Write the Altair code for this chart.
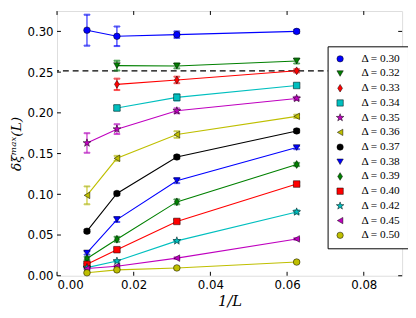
import altair as alt
import pandas as pd

# ---- data ----
L_values = [128, 64, 32, 16]
deltas = ["0.30", "0.32", "0.33", "0.34", "0.35", "0.36", "0.37",
          "0.38", "0.39", "0.40", "0.42", "0.45", "0.50"]

values = {
    "0.30": [0.3015, 0.294, 0.296, 0.300],
    "0.32": [None, 0.258, 0.2576, 0.2636],
    "0.33": [None, 0.235, 0.2404, 0.2516],
    "0.34": [None, 0.206, 0.219, 0.2336],
    "0.35": [0.163, 0.180, 0.2025, 0.2177],
    "0.36": [0.0987, 0.1442, 0.1734, 0.1957],
    "0.37": [0.0547, 0.101, 0.1458, 0.1778],
    "0.38": [0.028, 0.069, 0.1167, 0.1574],
    "0.39": [0.0212, 0.0448, 0.0907, 0.1366],
    "0.40": [0.014, 0.032, 0.0667, 0.1126],
    "0.42": [0.010, 0.018, 0.0428, 0.0783],
    "0.45": [0.0088, 0.0116, 0.0216, 0.0452],
    "0.50": [0.0036, 0.0072, 0.0096, 0.0168],
}
errors = {
    "0.30": [0.019, 0.012, 0.004, 0.002],
    "0.32": [None, 0.006, 0.003, 0.003],
    "0.33": [None, 0.007, 0.004, 0.002],
    "0.34": [None, 0.003, 0.004, 0.002],
    "0.35": [0.012, 0.006, 0.003, 0.002],
    "0.36": [0.011, 0.003, 0.004, 0.002],
    "0.37": [0.002, 0.002, 0.002, 0.002],
    "0.38": [0.002, 0.003, 0.003, 0.002],
    "0.39": [0.002, 0.003, 0.003, 0.002],
    "0.40": [0.001, 0.002, 0.002, 0.002],
    "0.42": [0.001, 0.001, 0.001, 0.002],
    "0.45": [0.001, 0.001, 0.001, 0.001],
    "0.50": [0.001, 0.001, 0.001, 0.001],
}
threshold = 0.2515
x_ticks = [0.00, 0.02, 0.04, 0.06, 0.08]
y_ticks = [0.00, 0.05, 0.10, 0.15, 0.20, 0.25, 0.30]

# ---- styles ----
colors = ["#0000ff", "#008000", "#ff0000", "#00bfbf", "#bf00bf", "#bfbf00", "#000000",
          "#0000ff", "#008000", "#ff0000", "#00bfbf", "#bf00bf", "#bfbf00"]
star = ("M0,-1.25L0.294,-0.405L1.189,-0.386L0.475,0.155L0.735,1.011L0,0.5"
        "L-0.735,1.011L-0.475,0.155L-1.189,-0.386L-0.294,-0.405Z")
thin_diamond = "M0,-1.2L0.75,0L0,1.2L-0.75,0Z"
shapes = ["circle", "triangle-down", thin_diamond, "square", star, "triangle-left", "circle",
          "triangle-down", thin_diamond, "square", star, "triangle-left", "circle"]

labels = ["Δ = " + d for d in deltas]

rows = []
for d, lab in zip(deltas, labels):
    for L, v, e in zip(L_values, values[d], errors[d]):
        if v is None:
            continue
        rows.append({"series": lab, "x": 1.0 / L, "y": v, "lo": v - e, "hi": v + e})
df = pd.DataFrame(rows)

W, H = 352, 270
xscale = alt.Scale(domain=[0, 0.09], nice=False, zero=False)
yscale = alt.Scale(domain=[0, 0.325], nice=False, zero=False)
cscale = alt.Scale(domain=labels, range=colors)
sscale = alt.Scale(domain=labels, range=shapes)
# data-driven domain (sorted labels = same order) so these guides stay separate
line_scale = alt.Scale(range=colors)

xaxis = alt.Axis(values=x_ticks, format=".2f", ticks=False, domain=False, grid=False,
                 labelFont="DejaVu Sans", labelFontSize=12, labelColor="black", labelPadding=4,
                 title="1/L", titleFont="DejaVu Serif", titleFontStyle="italic",
                 titleFontWeight="normal", titleFontSize=15, titleColor="black", titlePadding=3)
yaxis = alt.Axis(values=y_ticks, format=".2f", ticks=False, domain=False, grid=False,
                 labelFont="DejaVu Sans", labelFontSize=12, labelColor="black", labelPadding=4,
                 title="δξᵐᵃˣ(L)", titleFont="DejaVu Serif", titleFontStyle="italic",
                 titleFontWeight="normal", titleFontSize=14, titleColor="black", titlePadding=4)

base = alt.Chart(df)

dash = alt.Chart(pd.DataFrame({"t": [threshold]})).mark_rule(
    color="black", strokeWidth=1.2, strokeDash=[6, 4]
).encode(y=alt.Y("t:Q", scale=yscale, axis=yaxis))

lines = base.mark_line(strokeWidth=1.1).encode(
    x=alt.X("x:Q", scale=xscale, axis=xaxis),
    y=alt.Y("y:Q", scale=yscale, axis=yaxis),
    stroke=alt.Stroke("series:N", scale=line_scale, legend=None),
    detail="series:N",
    order="x:Q",
)

ebars = base.mark_rule(strokeWidth=1).encode(
    x=alt.X("x:Q", scale=xscale),
    y=alt.Y("lo:Q", scale=yscale),
    y2="hi:Q",
    stroke=alt.Stroke("series:N", scale=line_scale, legend=None),
)
cap_lo = base.mark_tick(orient="horizontal", size=6, thickness=1).encode(
    x=alt.X("x:Q", scale=xscale),
    y=alt.Y("lo:Q", scale=yscale),
    stroke=alt.Stroke("series:N", scale=line_scale, legend=None),
)
cap_hi = base.mark_tick(orient="horizontal", size=6, thickness=1).encode(
    x=alt.X("x:Q", scale=xscale),
    y=alt.Y("hi:Q", scale=yscale),
    stroke=alt.Stroke("series:N", scale=line_scale, legend=None),
)

legend = alt.Legend(title=None, orient="none", legendX=276, legendY=36,
                    strokeColor="black", fillColor="white", cornerRadius=0, padding=7,
                    labelFont="Liberation Serif", labelFontSize=11.5, labelColor="black",
                    symbolSize=42, symbolStrokeColor="black", symbolStrokeWidth=0.5,
                    rowPadding=2, symbolOffset=0, labelOffset=16)

points = base.mark_point(filled=True, size=45, opacity=1, stroke="black", strokeWidth=0.5).encode(
    x=alt.X("x:Q", scale=xscale),
    y=alt.Y("y:Q", scale=yscale),
    color=alt.Color("series:N", scale=cscale, legend=legend),
    shape=alt.Shape("series:N", scale=sscale, legend=legend),
)

tk = 4
xt = pd.DataFrame({"v": x_ticks})
yt = pd.DataFrame({"v": y_ticks})
xt_bot = alt.Chart(xt).mark_rule(color="black", strokeWidth=1).encode(
    x=alt.X("v:Q", scale=xscale), y=alt.value(H), y2=alt.value(H - tk))
xt_top = alt.Chart(xt).mark_rule(color="black", strokeWidth=1).encode(
    x=alt.X("v:Q", scale=xscale), y=alt.value(0), y2=alt.value(tk))
yt_left = alt.Chart(yt).mark_rule(color="black", strokeWidth=1).encode(
    y=alt.Y("v:Q", scale=yscale), x=alt.value(0), x2=alt.value(tk))
yt_right = alt.Chart(yt).mark_rule(color="black", strokeWidth=1).encode(
    y=alt.Y("v:Q", scale=yscale), x=alt.value(W), x2=alt.value(W - tk))

chart = alt.layer(
    dash, lines, ebars, cap_lo, cap_hi, points, xt_bot, xt_top, yt_left, yt_right
).properties(
    width=W, height=H,
    autosize=alt.AutoSizeParams(type="none"),
    padding={"left": 50, "top": 0, "right": 6, "bottom": 40},
).configure_view(
    stroke="black", strokeWidth=1
).configure(background="white")

chart.save("out.html", embed_options={"renderer": "svg", "actions": False})
